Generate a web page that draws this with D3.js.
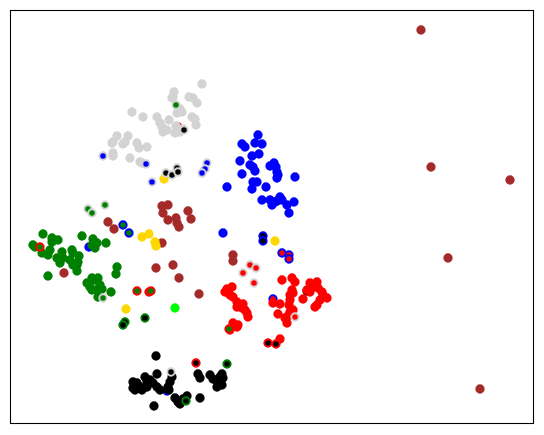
<!DOCTYPE html>
<html>
<head>
<meta charset="utf-8">
<script src="https://cdn.jsdelivr.net/npm/d3@7"></script>
<style>
  body { margin: 0; background: #fff; }
</style>
</head>
<body>
<div id="chart"></div>
<script>
// class colours (edge = true class, fill = predicted class)
var classColors = ["lightgray", "blue", "green", "brown", "red", "black", "gold", "lime"];

// points per true class: [x, y] or [x, y, predictedClass]
var grayPts = [[192,339],[164,331],[163,326],[162,325],[179,326],[183,325],[187,320],[170,314],[172,311],
  [122,311],[133,306],[147,306],[159,303],[150,300],[152,296],[167,310],[182,306],[185,304],[186,298],
  [153,291],[157,293],[165,290],[170,291],[173,294],[107,287],[103,281],[102,280],[118,287],[115,281],
  [113,279],[127,280],[129,275],[137,276],[103,270],[103,267],[120,265],[130,261],[132,260],[166,297],
  [166,318,2],[174,293,5],[93,267,1],[136,259,1],[156,250,5],[162,248,5],[167,255,5],[168,251,5],
  [142,241,1],[197,260,1],[195,254,1],[192,250,1],[78,214,2],[82,210,2],[95,218,2],[93,125,2],
  [161,51,5],[240,158,4],[246,155,4],[233,150,4],[244,140,4],[285,106,4]];

var bluePts = [[248,288],[232,279],[235,276],[245,280],[252,279],[242,267],[249,269],[230,262],[240,258],
  [243,256],[245,252],[232,249],[260,257],[264,260],[266,256],[267,251],[268,248],[267,245],[285,246],
  [243,241],[247,241],[242,234],[217,236],[256,236],[252,223],[260,223],[262,218],[265,221],[270,226],
  [272,223],[277,218],[284,221],[279,210],[213,190],
  [113,198,2],[119,190,2],[253,187,5],[253,182,5],[272,170,4],[279,168,4],[279,164,4]];

var greenPts = [[33,189],[42,185],[48,183],[42,181],[72,187],[83,184],[87,180],[82,178],[85,175],[96,180],
  [23,178],[25,176],[40,173],[38,168],[32,170],[52,171],[62,173],[63,170],[69,167],[47,165],[53,165],
  [50,160],[60,163],[63,158],[68,161],[67,152],[38,147],[107,156],[106,149],[82,145],[88,145],[85,143],
  [77,140],[80,136],[90,138],[82,133],[87,133],[92,134],[88,126],[101,131],
  [115,101,5],[113,98,5],[135,105,5],[217,59,5],[176,22,5]];

var brownPts = [[98,201],[104,194],[54,150],[152,180],[152,217],[158,218],[153,210],[158,203],[166,205],
  [167,200],[169,196],[178,212],[181,204],[146,155],[163,158],[169,145],[189,129],[223,168],[223,162],
  [411,393],[421,256],[500,243],[438,165],[470,34]];

var redPts = [[272,143],[282,145],[285,141],[282,133],[280,128],[283,130],[300,140],[307,141],[303,136],
  [308,135],[297,133],[300,131],[312,131],[313,128],[317,125],[310,123],[307,118],[305,116],[293,124],
  [280,123],[279,118],[263,120],[270,119],[268,109],[280,111],[283,113],[278,107],[275,105],[277,100],
  [217,134],[222,136],[215,131],[220,128],[223,126],[227,121],[230,118],[232,115],[235,113],[237,110],
  [238,106],[227,116],[233,119],[223,100],[228,98],[227,96],[220,93],[270,84],
  [258,80,5],[266,79,5],[186,60,5],[219,94,2],[30,176,2],[127,132,2],[139,131,2],[141,132,2]];

var blackPts = [[146,67],[147,49],[162,46],[160,41],[158,36],[159,33],[123,41],[127,40],[123,35],[128,35],
  [125,33],[130,36],[135,46],[137,41],[140,43],[143,40],[147,36],[150,33],[137,36],[132,33],[188,49],
  [190,45],[200,48],[203,44],[207,42],[210,46],[212,49],[213,45],[208,40],[207,36],[212,38],[165,25],
  [168,21],[170,19],[173,24],[177,27],[190,25],[144,17]];

var goldPts = [[132,186],[139,189],[145,181],[146,177],[154,244],[265,182],[116,114]];
var limePts = [[165,115]];

// points mostly covered by others: [x, y, trueClass, predictedClass]
var hiddenPts = [[168,296,4,0],[79,176,1,1],[157,32,1,5],[263,124,1,4],[67,158,2,5],[297,132,5,4],[267,222,5,1]];

var W = 544, H = 435;
var frame = {left: 10, top: 10, right: 533, bottom: 423};

var x = d3.scaleLinear().domain([0, 523]).range([frame.left, frame.right]);
var y = d3.scaleLinear().domain([0, 413]).range([frame.bottom, frame.top]);

var svg = d3.select("#chart").append("svg")
  .attr("width", W)
  .attr("height", H)
  .style("display", "block");

svg.append("rect")
  .attr("width", W).attr("height", H)
  .attr("fill", "#fff");

var all = [[grayPts, 0], [bluePts, 1], [greenPts, 2], [brownPts, 3], [redPts, 4], [blackPts, 5], [goldPts, 6], [limePts, 7]];
var rows = [];
all.forEach(function(a) {
  a[0].forEach(function(p) {
    rows.push({x: p[0], y: p[1], truth: a[1], pred: p.length > 2 ? p[2] : a[1]});
  });
});

var ordered = hiddenPts.map(function(p) { return {x: p[0], y: p[1], truth: p[2], pred: p[3]}; })
  .concat(rows.filter(function(d) { return d.pred === d.truth; }))
  .concat(rows.filter(function(d) { return d.pred !== d.truth; }));

svg.append("g")
  .selectAll("circle")
  .data(ordered)
  .enter().append("circle")
    .attr("cx", function(d) { return x(d.x); })
    .attr("cy", function(d) { return y(d.y); })
    .attr("r", 3.7)
    .attr("fill", function(d) { return classColors[d.pred]; })
    .attr("stroke", function(d) { return classColors[d.truth]; })
    .attr("stroke-width", 1.9);

svg.append("rect")
  .attr("x", frame.left + 0.5)
  .attr("y", frame.top + 0.5)
  .attr("width", frame.right - frame.left)
  .attr("height", frame.bottom - frame.top)
  .attr("fill", "none")
  .attr("stroke", "#000")
  .attr("stroke-width", 1.1);
</script>
</body>
</html>
